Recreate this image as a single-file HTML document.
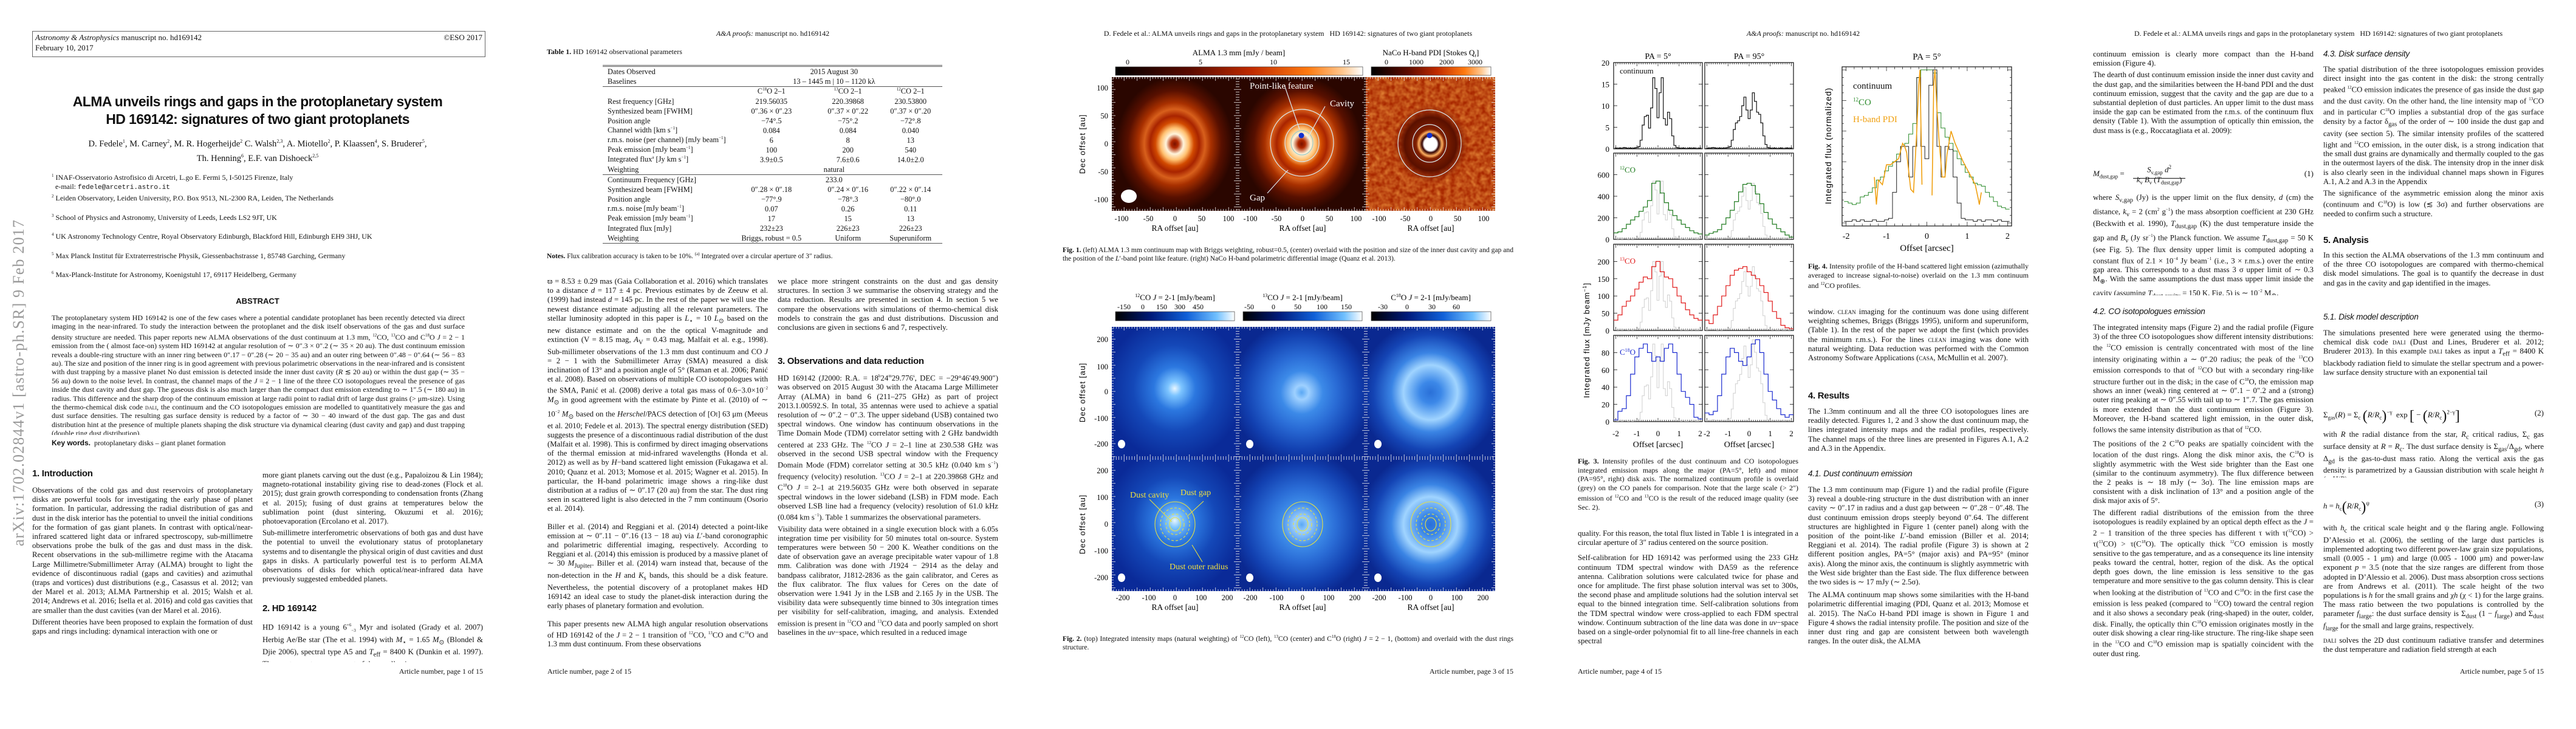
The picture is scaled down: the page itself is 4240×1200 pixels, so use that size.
<!DOCTYPE html>
<html><head><meta charset="utf-8">
<style>
html,body{margin:0;padding:0;background:#fff}
body{width:4240px;height:1200px;position:relative;overflow:hidden;font-family:"Liberation Serif",serif;color:#111}
.page{position:absolute;top:0;width:848px;height:1200px;background:#fff;overflow:hidden}
.abs{position:absolute}
.col{position:absolute;width:363px;font-size:12.8px;line-height:15.2px;text-align:justify;overflow:hidden;hyphens:auto}
.col p{margin:0 0 4px 0;text-indent:0}
.h1{position:absolute;font-family:"Liberation Sans",sans-serif;font-weight:bold;font-size:15px;letter-spacing:-0.3px}
.h2{position:absolute;font-family:"Liberation Sans",sans-serif;font-style:italic;font-size:13.5px;letter-spacing:-0.2px}
.run{position:absolute;top:48px;width:848px;text-align:center;font-size:12px}
.foot{position:absolute;top:1098px;font-size:12px}
.cap{position:absolute;font-size:11.6px;line-height:14.2px;text-align:justify;overflow:hidden}
.cap b{font-weight:bold}
.tbl td{padding:0;height:16px;font-size:12.4px;white-space:nowrap}
.sc{font-variant:small-caps}
</style></head>
<body>

<!-- ================= PAGE 1 ================= -->
<div class="page" style="left:0">
  <div class="abs" style="left:53px;top:51px;width:740px;height:40px;border:1px solid #666;font-size:13px;line-height:17px;padding:1px 0 0 4px">
    <div><i>Astronomy &amp; Astrophysics</i> manuscript no. hd169142<span style="float:right;margin-right:4px">©ESO 2017</span></div>
    <div>February 10, 2017</div>
  </div>
  <div class="abs" style="left:0;top:153px;width:848px;text-align:center;font-family:'Liberation Sans',sans-serif;font-weight:bold;font-size:23px;line-height:29px;letter-spacing:-0.6px">ALMA unveils rings and gaps in the protoplanetary system<br>HD 169142: signatures of two giant protoplanets</div>
  <div class="abs" style="left:0;top:223px;width:848px;text-align:center;font-size:14.5px;line-height:20px">D. Fedele<sup style="font-size:8px">1</sup>, M. Carney<sup style="font-size:8px">2</sup>, M. R. Hogerheijde<sup style="font-size:8px">2</sup> C. Walsh<sup style="font-size:8px">2,3</sup>, A. Miotello<sup style="font-size:8px">2</sup>, P. Klaassen<sup style="font-size:8px">4</sup>, S. Bruderer<sup style="font-size:8px">5</sup>,<br>Th. Henning<sup style="font-size:8px">6</sup>, E.F. van Dishoeck<sup style="font-size:8px">2,5</sup></div>
  <div class="abs" style="left:85px;top:282px;width:700px;font-size:12px;line-height:14.5px">
    <div><sup style="font-size:7px">1</sup> INAF-Osservatorio Astrofisico di Arcetri, L.go E. Fermi 5, I-50125 Firenze, Italy<br>&nbsp;&nbsp;e-mail: <span style="font-family:'Liberation Mono',monospace;font-size:11px">fedele@arcetri.astro.it</span></div>
    <div><sup style="font-size:7px">2</sup> Leiden Observatory, Leiden University, P.O. Box 9513, NL-2300 RA, Leiden, The Netherlands</div>
    <div style="margin-top:14px"><sup style="font-size:7px">3</sup> School of Physics and Astronomy, University of Leeds, Leeds LS2 9JT, UK</div>
    <div style="margin-top:14px"><sup style="font-size:7px">4</sup> UK Astronomy Technology Centre, Royal Observatory Edinburgh, Blackford Hill, Edinburgh EH9 3HJ, UK</div>
    <div style="margin-top:14px"><sup style="font-size:7px">5</sup> Max Planck Institut für Extraterrestrische Physik, Giessenbachstrasse 1, 85748 Garching, Germany</div>
    <div style="margin-top:14px"><sup style="font-size:7px">6</sup> Max-Planck-Institute for Astronomy, Koenigstuhl 17, 69117 Heidelberg, Germany</div>
  </div>
  <div class="abs" style="left:31px;top:630px;width:0;height:0">
    <div style="position:absolute;transform:translate(-50%,-50%) rotate(-90deg);white-space:nowrap;font-size:26px;color:#9a9a9a;letter-spacing:1.2px">arXiv:1702.02844v1 [astro-ph.SR] 9 Feb 2017</div>
  </div>
  <div class="abs" style="left:0;top:488px;width:848px;text-align:center;font-family:'Liberation Sans',sans-serif;font-weight:bold;font-size:13px">ABSTRACT</div>
  <div class="abs" style="left:85px;top:516px;width:680px;height:200px;overflow:hidden;font-size:12px;line-height:14.4px;text-align:justify">The protoplanetary system HD 169142 is one of the few cases where a potential candidate protoplanet has been recently detected via direct imaging in the near-infrared. To study the interaction between the protoplanet and the disk itself observations of the gas and dust surface density structure are needed. This paper reports new ALMA observations of the dust continuum at 1.3 mm, <sup style="font-size:7px">12</sup>CO, <sup style="font-size:7px">13</sup>CO and C<sup style="font-size:7px">18</sup>O <i>J</i> = 2 − 1 emission from the ( almost face-on) system HD 169142 at angular resolution of ∼ 0″.3 × 0″.2 (∼ 35 × 20 au). The dust continuum emission reveals a double-ring structure with an inner ring between 0″.17 − 0″.28 (∼ 20 − 35 au) and an outer ring between 0″.48 − 0″.64 (∼ 56 − 83 au). The size and position of the inner ring is in good agreement with previous polarimetric observations in the near-infrared and is consistent with dust trapping by a massive planet No dust emission is detected inside the inner dust cavity (<i>R</i> ≲ 20 au) or within the dust gap (∼ 35 − 56 au) down to the noise level. In contrast, the channel maps of the <i>J</i> = 2 − 1 line of the three CO isotopologues reveal the presence of gas inside the dust cavity and dust gap. The gaseous disk is also much larger than the compact dust emission extending to ∼ 1″.5 (∼ 180 au) in radius. This difference and the sharp drop of the continuum emission at large radii point to radial drift of large dust grains (&gt; μm-size). Using the thermo-chemical disk code <span class="sc">dali</span>, the continuum and the CO isotopologues emission are modelled to quantitatively measure the gas and dust surface densities. The resulting gas surface density is reduced by a factor of ∼ 30 − 40 inward of the dust gap. The gas and dust distribution hint at the presence of multiple planets shaping the disk structure via dynamical clearing (dust cavity and gap) and dust trapping (double ring dust distribution).</div>
  <div class="abs" style="left:85px;top:722px;font-size:12px"><b style="font-family:'Liberation Sans',sans-serif">Key words.</b>&nbsp; protoplanetary disks – giant planet formation</div>
  <div class="h1" style="left:53px;top:771px">1. Introduction</div>
  <div class="col" style="left:53px;top:800px;height:290px">
    <p>Observations of the cold gas and dust reservoirs of protoplanetary disks are powerful tools for investigating the early phase of planet formation. In particular, addressing the radial distribution of gas and dust in the disk interior has the potential to unveil the initial conditions for the formation of gas giant planets. In contrast with optical/near-infrared scattered light data or infrared spectroscopy, sub-millimetre observations probe the bulk of the gas and dust mass in the disk. Recent observations in the sub-millimetre regime with the Atacama Large Millimetre/Submillimeter Array (ALMA) brought to light the evidence of discontinuous radial (gaps and cavities) and azimuthal (traps and vortices) dust distributions (e.g., Casassus et al. 2012; van der Marel et al. 2013; ALMA Partnership et al. 2015; Walsh et al. 2014; Andrews et al. 2016; Isella et al. 2016) and cold gas cavities that are smaller than the dust cavities (van der Marel et al. 2016).</p>
    <p>Different theories have been proposed to explain the formation of dust gaps and rings including: dynamical interaction with one or</p>
  </div>
  <div class="col" style="left:432px;top:775px;height:190px">
    <p>more giant planets carving out the dust (e.g., Papaloizou &amp; Lin 1984); magneto-rotational instability giving rise to dead-zones (Flock et al. 2015); dust grain growth corresponding to condensation fronts (Zhang et al. 2015); fusing of dust grains at temperatures below the sublimation point (dust sintering, Okuzumi et al. 2016); photoevaporation (Ercolano et al. 2017).</p>
    <p>Sub-millimetre interferometric observations of both gas and dust have the potential to unveil the evolutionary status of protoplanetary systems and to disentangle the physical origin of dust cavities and dust gaps in disks. A particularly powerful test is to perform ALMA observations of disks for which optical/near-infrared data have previously suggested embedded planets.</p>
  </div>
  <div class="h1" style="left:432px;top:993px">2. HD 169142</div>
  <div class="col" style="left:432px;top:1022px;height:68px">
    <p>HD 169142 is a young 6<sup style="font-size:7px">+6</sup><sub style="font-size:7px">−3</sub> Myr and isolated (Grady et al. 2007) Herbig Ae/Be star (The et al. 1994) with <i>M</i><sub>⋆</sub> = 1.65 <i>M</i><sub>⊙</sub> (Blondel &amp; Djie 2006), spectral type A5 and <i>T</i><sub>eff</sub> = 8400 K (Dunkin et al. 1997). The most recent measurement of the parallax is</p>
  </div>
  <div class="foot" style="right:53px">Article number, page 1 of 15</div>
</div>

<!-- ================= PAGE 2 ================= -->
<div class="page" style="left:848px">
  <div class="run"><i>A&amp;A proofs:</i> manuscript no. hd169142</div>
  <div class="abs" style="left:52px;top:78px;font-size:12px"><b>Table 1.</b> HD 169142 observational parameters</div>
  <div class="abs" style="left:144px;top:107px;width:559px;border-top:3px double #555;border-bottom:1px solid #555">
    <table class="tbl" style="border-collapse:collapse;width:559px">
      <tr><td style="width:150px;padding-left:8px">Dates Observed</td><td colspan="3" style="text-align:center">2015 August 30</td></tr>
      <tr style="border-bottom:1px solid #555"><td style="padding-left:8px">Baselines</td><td colspan="3" style="text-align:center">13 – 1445 m | 10 – 1120 kλ</td></tr>
      <tr><td></td><td style="text-align:center">C<sup style="font-size:7px">18</sup>O 2–1</td><td style="text-align:center"><sup style="font-size:7px">13</sup>CO 2–1</td><td style="text-align:center"><sup style="font-size:7px">12</sup>CO 2–1</td></tr>
      <tr><td style="padding-left:8px">Rest frequency [GHz]</td><td style="text-align:center">219.56035</td><td style="text-align:center">220.39868</td><td style="text-align:center">230.53800</td></tr>
      <tr><td style="padding-left:8px">Synthesized beam [FWHM]</td><td style="text-align:center">0″.36 × 0″.23</td><td style="text-align:center">0″.37 × 0″.22</td><td style="text-align:center">0″.37 × 0″.20</td></tr>
      <tr><td style="padding-left:8px">Position angle</td><td style="text-align:center">−74°.5</td><td style="text-align:center">−75°.2</td><td style="text-align:center">−72°.8</td></tr>
      <tr><td style="padding-left:8px">Channel width [km s<sup style="font-size:7px">−1</sup>]</td><td style="text-align:center">0.084</td><td style="text-align:center">0.084</td><td style="text-align:center">0.040</td></tr>
      <tr><td style="padding-left:8px">r.m.s. noise (per channel) [mJy beam<sup style="font-size:7px">−1</sup>]</td><td style="text-align:center">6</td><td style="text-align:center">8</td><td style="text-align:center">13</td></tr>
      <tr><td style="padding-left:8px">Peak emission [mJy beam<sup style="font-size:7px">−1</sup>]</td><td style="text-align:center">100</td><td style="text-align:center">200</td><td style="text-align:center">540</td></tr>
      <tr><td style="padding-left:8px">Integrated flux<sup style="font-size:7px">a</sup> [Jy km s<sup style="font-size:7px">−1</sup>]</td><td style="text-align:center">3.9±0.5</td><td style="text-align:center">7.6±0.6</td><td style="text-align:center">14.0±2.0</td></tr>
      <tr style="border-bottom:1px solid #555"><td style="padding-left:8px">Weighting</td><td colspan="3" style="text-align:center">natural</td></tr>
      <tr><td style="padding-left:8px">Continuum Frequency [GHz]</td><td colspan="3" style="text-align:center">233.0</td></tr>
      <tr><td style="padding-left:8px">Synthesized beam [FWHM]</td><td style="text-align:center">0″.28 × 0″.18</td><td style="text-align:center">0″.24 × 0″.16</td><td style="text-align:center">0″.22 × 0″.14</td></tr>
      <tr><td style="padding-left:8px">Position angle</td><td style="text-align:center">−77°.9</td><td style="text-align:center">−78°.3</td><td style="text-align:center">−80°.0</td></tr>
      <tr><td style="padding-left:8px">r.m.s. noise [mJy beam<sup style="font-size:7px">−1</sup>]</td><td style="text-align:center">0.07</td><td style="text-align:center">0.26</td><td style="text-align:center">0.11</td></tr>
      <tr><td style="padding-left:8px">Peak emission [mJy beam<sup style="font-size:7px">−1</sup>]</td><td style="text-align:center">17</td><td style="text-align:center">15</td><td style="text-align:center">13</td></tr>
      <tr><td style="padding-left:8px">Integrated flux [mJy]</td><td style="text-align:center">232±23</td><td style="text-align:center">226±23</td><td style="text-align:center">226±23</td></tr>
      <tr><td style="padding-left:8px">Weighting</td><td style="text-align:center">Briggs, robust = 0.5</td><td style="text-align:center">Uniform</td><td style="text-align:center">Superuniform</td></tr>
    </table>
  </div>
  <div class="abs" style="left:52px;top:414px;font-size:11.5px"><b>Notes.</b> Flux calibration accuracy is taken to be 10%. <sup style="font-size:7px">(a)</sup> Integrated over a circular aperture of 3″ radius.</div>
  <div class="col" style="left:53px;top:456px;height:634px">
    <p>ϖ = 8.53 ± 0.29 mas (Gaia Collaboration et al. 2016) which translates to a distance <i>d</i> = 117 ± 4 pc. Previous estimates by de Zeeuw et al. (1999) had instead <i>d</i> = 145 pc. In the rest of the paper we will use the newest distance estimate adjusting all the relevant parameters. The stellar luminosity adopted in this paper is <i>L</i><sub>⋆</sub> = 10 <i>L</i><sub>⊙</sub> based on the new distance estimate and on the the optical V-magnitude and extinction (V = 8.15 mag, <i>A</i><sub>V</sub> = 0.43 mag, Malfait et al. e.g., 1998). Sub-millimeter observations of the 1.3 mm dust continuum and CO <i>J</i> = 2 − 1 with the Submillimeter Array (SMA) measured a disk inclination of 13° and a position angle of 5° (Raman et al. 2006; Panić et al. 2008). Based on observations of multiple CO isotopologues with the SMA, Panić et al. (2008) derive a total gas mass of 0.6−3.0×10<sup style="font-size:7px">−2</sup> <i>M</i><sub>⊙</sub> in good agreement with the estimate by Pinte et al. (2010) of ∼ 10<sup style="font-size:7px">−2</sup> <i>M</i><sub>⊙</sub> based on the <i>Herschel</i>/PACS detection of [O<span class="sc">i</span>] 63 μm (Meeus et al. 2010; Fedele et al. 2013). The spectral energy distribution (SED) suggests the presence of a discontinuous radial distribution of the dust (Malfait et al. 1998). This is confirmed by direct imaging observations of the thermal emission at mid-infrared wavelengths (Honda et al. 2012) as well as by <i>H</i>−band scattered light emission (Fukagawa et al. 2010; Quanz et al. 2013; Momose et al. 2015; Wagner et al. 2015). In particular, the H-band polarimetric image shows a ring-like dust distribution at a radius of ∼ 0″.17 (20 au) from the star. The dust ring seen in scattered light is also detected in the 7 mm continuum (Osorio et al. 2014).</p>
    <p style="margin-top:14px">Biller et al. (2014) and Reggiani et al. (2014) detected a point-like emission at ∼ 0″.11 − 0″.16 (13 − 18 au) via <i>L</i>′-band coronographic and polarimetric differential imaging, respectively. According to Reggiani et al. (2014) this emission is produced by a massive planet of ∼ 30 <i>M</i><sub>Jupiter</sub>. Biller et al. (2014) warn instead that, because of the non-detection in the <i>H</i> and <i>K</i><sub>s</sub> bands, this should be a disk feature. Nevertheless, the potential discovery of a protoplanet makes HD 169142 an ideal case to study the planet-disk interaction during the early phases of planetary formation and evolution.</p>
    <p style="margin-top:14px">This paper presents new ALMA high angular resolution observations of HD 169142 of the <i>J</i> = 2 − 1 transition of <sup style="font-size:7px">12</sup>CO, <sup style="font-size:7px">13</sup>CO and C<sup style="font-size:7px">18</sup>O and 1.3 mm dust continuum. From these observations</p>
  </div>
  <div class="col" style="left:432px;top:456px;height:107px">
    <p>we place more stringent constraints on the dust and gas density structures. In section 3 we summarise the observing strategy and the data reduction. Results are presented in section 4. In section 5 we compare the observations with simulations of thermo-chemical disk models to constrain the gas and dust distributions. Discussion and conclusions are given in sections 6 and 7, respectively.</p>
  </div>
  <div class="h1" style="left:432px;top:586px">3. Observations and data reduction</div>
  <div class="col" style="left:432px;top:612px;height:478px">
    <p>HD 169142 (J2000: R.A. = 18<sup style="font-size:7px">h</sup>24<sup style="font-size:7px">m</sup>29.776<sup style="font-size:7px">s</sup>, DEC = −29°46′49.900″) was observed on 2015 August 30 with the Atacama Large Millimeter Array (ALMA) in band 6 (211–275 GHz) as part of project 2013.1.00592.S. In total, 35 antennas were used to achieve a spatial resolution of ∼ 0″.2 − 0″.3. The upper sideband (USB) contained two spectral windows. One window has continuum observations in the Time Domain Mode (TDM) correlator setting with 2 GHz bandwidth centered at 233 GHz. The <sup style="font-size:7px">12</sup>CO <i>J</i> = 2–1 line at 230.538 GHz was observed in the second USB spectral window with the Frequency Domain Mode (FDM) correlator setting at 30.5 kHz (0.040 km s<sup style="font-size:7px">−1</sup>) frequency (velocity) resolution. <sup style="font-size:7px">13</sup>CO <i>J</i> = 2–1 at 220.39868 GHz and C<sup style="font-size:7px">18</sup>O <i>J</i> = 2–1 at 219.56035 GHz were both observed in separate spectral windows in the lower sideband (LSB) in FDM mode. Each observed LSB line had a frequency (velocity) resolution of 61.0 kHz (0.084 km s<sup style="font-size:7px">−1</sup>). Table 1 summarizes the observational parameters.</p>
    <p>Visibility data were obtained in a single execution block with a 6.05s integration time per visibility for 50 minutes total on-source. System temperatures were between 50 − 200 K. Weather conditions on the date of observation gave an average precipitable water vapour of 1.8 mm. Calibration was done with <i>J</i>1924 − 2914 as the delay and bandpass calibrator, J1812-2836 as the gain calibrator, and Ceres as the flux calibrator. The flux values for Ceres on the date of observation were 1.941 Jy in the LSB and 2.165 Jy in the USB. The visibility data were subsequently time binned to 30s integration times per visibility for self-calibration, imaging, and analysis. Extended emission is present in <sup style="font-size:7px">12</sup>CO and <sup style="font-size:7px">13</sup>CO data and poorly sampled on short baselines in the <i>uv</i>−space, which resulted in a reduced image</p>
  </div>
  <div class="foot" style="left:53px">Article number, page 2 of 15</div>
</div>

<!-- ================= PAGE 3 ================= -->
<div class="page" style="left:1696px">
  <div class="run">D. Fedele et al.: ALMA unveils rings and gaps in the protoplanetary system&nbsp;&nbsp; HD 169142: signatures of two giant protoplanets</div>
  <svg class="abs" style="left:0;top:0" width="848" height="1200">
    <defs>
      <linearGradient id="hot" x1="0" x2="1" y1="0" y2="0">
        <stop offset="0" stop-color="#000"/><stop offset="0.3" stop-color="#5a0a00"/><stop offset="0.55" stop-color="#c02a00"/><stop offset="0.78" stop-color="#ff7a10"/><stop offset="0.92" stop-color="#ffc890"/><stop offset="1" stop-color="#fff"/>
      </linearGradient>
      <linearGradient id="bluebar" x1="0" x2="1" y1="0" y2="0">
        <stop offset="0" stop-color="#000"/><stop offset="0.3" stop-color="#001a7a"/><stop offset="0.6" stop-color="#1060d8"/><stop offset="0.85" stop-color="#70c0ff"/><stop offset="1" stop-color="#fff"/>
      </linearGradient>
      <radialGradient id="cont" cx="0.5" cy="0.5" r="0.5" gradientTransform="translate(0.5 0.5) scale(0.93 1) translate(-0.5 -0.5)">
        <stop offset="0" stop-color="#7a1200"/><stop offset="0.06" stop-color="#b02800"/><stop offset="0.15" stop-color="#fff4dc"/><stop offset="0.24" stop-color="#ffc070"/><stop offset="0.33" stop-color="#d24a00"/><stop offset="0.42" stop-color="#a82400"/><stop offset="0.52" stop-color="#d8601c"/><stop offset="0.62" stop-color="#a83000"/><stop offset="0.8" stop-color="#581000"/><stop offset="1" stop-color="#2a0600"/>
      </radialGradient>
      <radialGradient id="naco" cx="0.5" cy="0.5" r="0.5">
        <stop offset="0" stop-color="#fff"/><stop offset="0.1" stop-color="#fff"/><stop offset="0.13" stop-color="#300000"/><stop offset="0.18" stop-color="#ffb060"/><stop offset="0.22" stop-color="#802000"/><stop offset="0.4" stop-color="#5a1000"/><stop offset="0.6" stop-color="#a02400" stop-opacity="0"/><stop offset="1" stop-color="#a02400" stop-opacity="0"/>
      </radialGradient>
      <filter id="noise" x="0" y="0" width="100%" height="100%">
        <feTurbulence type="fractalNoise" baseFrequency="0.12" numOctaves="2" seed="4"/>
        <feColorMatrix type="matrix" values="0 0 0 0 0.85  0 0 0 0 0.3  0 0 0 0 0.05  0 0 0 1.4 -0.35"/>
      </filter>
      <radialGradient id="co12" cx="0.5" cy="0.47" r="0.55">
        <stop offset="0" stop-color="#e8f6ff"/><stop offset="0.1" stop-color="#7cc4ff"/><stop offset="0.3" stop-color="#2c78e0"/><stop offset="0.6" stop-color="#1448b8"/><stop offset="1" stop-color="#0a2a98"/>
      </radialGradient>
      <radialGradient id="co13" cx="0.5" cy="0.5" r="0.55">
        <stop offset="0" stop-color="#5aa8f4"/><stop offset="0.1" stop-color="#9ed0ff"/><stop offset="0.3" stop-color="#3c8ae8"/><stop offset="0.5" stop-color="#2a6cd6"/><stop offset="0.8" stop-color="#1240b0"/><stop offset="1" stop-color="#0a2890"/>
      </radialGradient>
      <radialGradient id="c18o" cx="0.5" cy="0.5" r="0.55">
        <stop offset="0" stop-color="#2a70d8"/><stop offset="0.15" stop-color="#3c88e8"/><stop offset="0.38" stop-color="#a0d4ff"/><stop offset="0.55" stop-color="#3a84e4"/><stop offset="0.8" stop-color="#1444b4"/><stop offset="1" stop-color="#0a2890"/>
      </radialGradient>
    </defs>
    <!-- Fig 1 colorbars -->
    <text x="343" y="91" font-size="13" text-anchor="middle" font-family="Liberation Serif">ALMA 1.3 mm [mJy / beam]</text>
    <g font-size="12" text-anchor="middle" font-family="Liberation Serif"><text x="160" y="106">0</text><text x="280" y="106">5</text><text x="400" y="106">10</text><text x="520" y="106">15</text></g>
    <rect x="140" y="110" width="407" height="14" fill="url(#hot)" stroke="#444" stroke-width="0.7"/>
    <text x="659" y="91" font-size="13" text-anchor="middle" font-family="Liberation Serif">NaCo H-band PDI [Stokes Q<tspan font-size="8" dy="3">r</tspan><tspan dy="-3">]</tspan></text>
    <g font-size="12" text-anchor="middle" font-family="Liberation Serif"><text x="586" y="106">0</text><text x="635" y="106">1000</text><text x="685" y="106">2000</text><text x="732" y="106">3000</text></g>
    <rect x="561" y="110" width="197" height="14" fill="url(#hot)" stroke="#444" stroke-width="0.7"/>
    <!-- Fig 1 panels -->
    <rect x="134" y="127" width="207" height="220" fill="url(#cont)"/>
    <ellipse cx="162" cy="323" rx="13" ry="11" fill="#fff"/>
    <rect x="341" y="127" width="211" height="220" fill="url(#cont)"/>
    <g fill="none" stroke="#d8e8f0" stroke-width="1.2">
      <ellipse cx="447" cy="235" rx="52" ry="55"/><ellipse cx="447" cy="235" rx="28" ry="31"/><ellipse cx="447" cy="235" rx="18" ry="20" stroke="#9cc"/>
      <line x1="418" y1="140" x2="443" y2="213"/><line x1="485" y1="175" x2="456" y2="228"/><line x1="390" y1="318" x2="424" y2="280"/>
    </g>
    <circle cx="446" cy="223" r="4.5" fill="#1030d0"/>
    <g fill="#fff" font-size="15" font-family="Liberation Serif"><text x="361" y="146">Point-like feature</text><text x="493" y="175">Cavity</text><text x="361" y="330">Gap</text></g>
    <rect x="552" y="127" width="213" height="220" fill="#a82800"/>
    <rect x="552" y="127" width="213" height="220" filter="url(#noise)" opacity="0.9"/>
    <rect x="552" y="127" width="213" height="220" fill="url(#naco)"/>
    <g fill="none" stroke="#d8e8f0" stroke-width="1.2"><ellipse cx="657" cy="236" rx="52" ry="55"/><ellipse cx="657" cy="236" rx="28" ry="31"/></g>
    <circle cx="657" cy="223" r="4.5" fill="#1030d0"/>
    <g font-family="Liberation Serif" font-size="12.5">
      <g text-anchor="end"><text x="128" y="149">100</text><text x="128" y="195">50</text><text x="128" y="241">0</text><text x="128" y="287">-50</text><text x="128" y="333">-100</text></g>
      <g text-anchor="middle">
        <text x="150" y="364">-100</text><text x="194" y="364">-50</text><text x="238" y="364">0</text><text x="282" y="364">50</text><text x="326" y="364">100</text>
        <text x="362" y="364">-100</text><text x="405" y="364">-50</text><text x="448" y="364">0</text><text x="492" y="364">50</text><text x="536" y="364">100</text>
        <text x="574" y="364">-100</text><text x="617" y="364">-50</text><text x="659" y="364">0</text><text x="703" y="364">50</text><text x="746" y="364">100</text>
        <text x="238" y="380" font-size="13.5">RA offset [au]</text><text x="448" y="380" font-size="13.5">RA offset [au]</text><text x="659" y="380" font-size="13.5">RA offset [au]</text>
      </g>
      <text transform="translate(90 237) rotate(-90)" text-anchor="middle" font-size="13" letter-spacing="1" font-family="Liberation Sans">Dec offset [au]</text>
    </g>
    <!-- Fig 2 colorbars -->
    <g font-family="Liberation Serif" text-anchor="middle">
      <text x="238" y="494" font-size="13"><tspan font-size="8" dy="-5">12</tspan><tspan dy="5">CO </tspan><tspan font-style="italic">J</tspan> = 2-1 [mJy/beam]</text>
      <text x="448" y="494" font-size="13"><tspan font-size="8" dy="-5">13</tspan><tspan dy="5">CO </tspan><tspan font-style="italic">J</tspan> = 2-1 [mJy/beam]</text>
      <text x="659" y="494" font-size="13">C<tspan font-size="8" dy="-5">18</tspan><tspan dy="5">O </tspan><tspan font-style="italic">J</tspan> = 2-1 [mJy/beam]</text>
      <g font-size="12"><text x="154" y="509">-150</text><text x="185" y="509">0</text><text x="216" y="509">150</text><text x="246" y="509">300</text><text x="276" y="509">450</text>
      <text x="360" y="509">-50</text><text x="400" y="509">0</text><text x="440" y="509">50</text><text x="480" y="509">100</text><text x="520" y="509">150</text>
      <text x="580" y="509">-30</text><text x="620" y="509">0</text><text x="661" y="509">30</text><text x="701" y="509">60</text></g>
    </g>
    <rect x="140" y="513" width="196" height="15" fill="url(#bluebar)" stroke="#444" stroke-width="0.7"/>
    <rect x="350" y="513" width="196" height="15" fill="url(#bluebar)" stroke="#444" stroke-width="0.7"/>
    <rect x="561" y="513" width="197" height="15" fill="url(#bluebar)" stroke="#444" stroke-width="0.7"/>
    <!-- Fig 2 panels -->
    <g>
      <rect x="134" y="538" width="207" height="216" fill="url(#co12)"/>
      <rect x="341" y="538" width="211" height="216" fill="url(#co13)"/>
      <rect x="552" y="538" width="213" height="216" fill="url(#c18o)"/>
      <rect x="134" y="754" width="207" height="219" fill="url(#co12)"/>
      <rect x="341" y="754" width="211" height="219" fill="url(#co13)"/>
      <rect x="552" y="754" width="213" height="219" fill="url(#c18o)"/>
      <g fill="#fff"><ellipse cx="150" cy="731" rx="6" ry="7"/><ellipse cx="361" cy="731" rx="6" ry="7"/><ellipse cx="572" cy="731" rx="6" ry="7"/><ellipse cx="150" cy="951" rx="6" ry="7"/><ellipse cx="361" cy="951" rx="6" ry="7"/><ellipse cx="572" cy="951" rx="6" ry="7"/></g>
      <g fill="none" stroke="#e8e040" stroke-width="1.1">
        <ellipse cx="238" cy="863" rx="33" ry="37"/><ellipse cx="238" cy="863" rx="24" ry="27" stroke-dasharray="4 3"/><ellipse cx="238" cy="863" rx="15" ry="17" stroke-dasharray="4 3"/><ellipse cx="238" cy="863" rx="9" ry="11"/>
        <ellipse cx="448" cy="863" rx="33" ry="37"/><ellipse cx="448" cy="863" rx="24" ry="27" stroke-dasharray="4 3"/><ellipse cx="448" cy="863" rx="15" ry="17" stroke-dasharray="4 3"/><ellipse cx="448" cy="863" rx="9" ry="11"/>
        <ellipse cx="659" cy="863" rx="33" ry="37"/><ellipse cx="659" cy="863" rx="24" ry="27" stroke-dasharray="4 3"/><ellipse cx="659" cy="863" rx="15" ry="17" stroke-dasharray="4 3"/><ellipse cx="659" cy="863" rx="9" ry="11"/>
        <line x1="196" y1="822" x2="233" y2="859"/><line x1="285" y1="825" x2="258" y2="850"/><line x1="283" y1="925" x2="266" y2="897"/>
      </g>
      <g fill="#f0e040" font-size="14" font-family="Liberation Serif"><text x="164" y="819">Dust cavity</text><text x="247" y="815">Dust gap</text><text x="229" y="937">Dust outer radius</text></g>
    </g>
    <g font-family="Liberation Serif" font-size="12.5">
      <g text-anchor="end"><text x="128" y="563">200</text><text x="128" y="608">100</text><text x="128" y="649">0</text><text x="128" y="693">-100</text><text x="128" y="735">-200</text>
      <text x="128" y="779">200</text><text x="128" y="823">100</text><text x="128" y="867">0</text><text x="128" y="911">-100</text><text x="128" y="955">-200</text></g>
      <g text-anchor="middle"><text x="152" y="988">-200</text><text x="195" y="988">-100</text><text x="238" y="988">0</text><text x="281" y="988">100</text><text x="324" y="988">200</text>
      <text x="362" y="988">-200</text><text x="405" y="988">-100</text><text x="448" y="988">0</text><text x="491" y="988">100</text><text x="534" y="988">200</text>
      <text x="574" y="988">-200</text><text x="617" y="988">-100</text><text x="659" y="988">0</text><text x="702" y="988">100</text><text x="745" y="988">200</text>
      <text x="238" y="1004" font-size="13.5">RA offset [au]</text><text x="448" y="1004" font-size="13.5">RA offset [au]</text><text x="659" y="1004" font-size="13.5">RA offset [au]</text></g>
      <text transform="translate(90 646) rotate(-90)" text-anchor="middle" font-size="13" letter-spacing="1" font-family="Liberation Sans">Dec offset [au]</text>
      <text transform="translate(90 863) rotate(-90)" text-anchor="middle" font-size="13" letter-spacing="1" font-family="Liberation Sans">Dec offset [au]</text>
    </g>
    <g id="imgticks" stroke="#eee" stroke-width="0.8"></g>
  </svg>
  <div class="cap" style="left:53px;top:405px;width:742px"><b>Fig. 1.</b> (left) ALMA 1.3 mm continuum map with Briggs weighting, robust=0.5, (center) overlaid with the position and size of the inner dust cavity and gap and the position of the <i>L</i>′-band point like feature. (right) NaCo H-band polarimetric differential image (Quanz et al. 2013).</div>
  <div class="cap" style="left:53px;top:1041px;width:742px"><b>Fig. 2.</b> (top) Integrated intensity maps (natural weighting) of <sup style="font-size:7px">12</sup>CO (left), <sup style="font-size:7px">13</sup>CO (center) and C<sup style="font-size:7px">18</sup>O (right) <i>J</i> = 2 − 1, (bottom) and overlaid with the dust rings structure.</div>
  <div class="foot" style="right:53px">Article number, page 3 of 15</div>
</div>

<!-- ================= PAGE 4 ================= -->
<div class="page" style="left:2544px">
  <div class="run"><i>A&amp;A proofs:</i> manuscript no. hd169142</div>
  <svg id="fig3" class="abs" style="left:0;top:0" width="848" height="1200"></svg>
  <div class="cap" style="left:53px;top:752px;width:363px;font-size:12px;line-height:14.6px"><b>Fig. 3.</b> Intensity profiles of the dust continuum and CO isotopologues integrated emission maps along the major (PA=5°, left) and minor (PA=95°, right) disk axis. The normalized continuum profile is overlaid (grey) on the CO panels for comparison. Note that the large scale (&gt; 2″) emission of <sup style="font-size:7px">12</sup>CO and <sup style="font-size:7px">13</sup>CO is the result of the reduced image quality (see Sec. 2).</div>
  <div class="col" style="left:53px;top:871px;height:220px">
    <p>quality. For this reason, the total flux listed in Table 1 is integrated in a circular aperture of 3″ radius centered on the source position.</p>
    <p style="margin-top:10px">Self-calibration for HD 169142 was performed using the 233 GHz continuum TDM spectral window with DA59 as the reference antenna. Calibration solutions were calculated twice for phase and once for amplitude. The first phase solution interval was set to 300s, the second phase and amplitude solutions had the solution interval set equal to the binned integration time. Self-calibration solutions from the TDM spectral window were cross-applied to each FDM spectral window. Continuum subtraction of the line data was done in <i>uv</i>−space based on a single-order polynomial fit to all line-free channels in each spectral</p>
  </div>
  <div class="cap" style="left:432px;top:431px;width:363px;font-size:12px;line-height:14.6px"><b>Fig. 4.</b> Intensity profile of the H-band scattered light emission (azimuthally averaged to increase signal-to-noise) overlaid on the 1.3 mm continuum and <sup style="font-size:7px">12</sup>CO profiles.</div>
  <div class="col" style="left:432px;top:506px;height:108px">
    <p>window. <span class="sc">clean</span> imaging for the continuum was done using different weighting schemes, Briggs (Briggs 1995), uniform and superuniform, (Table 1). In the rest of the paper we adopt the first (which provides the minimum r.m.s.). For the lines <span class="sc">clean</span> imaging was done with natural weighting. Data reduction was performed with the Common Astronomy Software Applications (<span class="sc">casa</span>, McMullin et al. 2007).</p>
  </div>
  <div class="h1" style="left:432px;top:643px">4. Results</div>
  <div class="col" style="left:432px;top:670px;height:77px">
    <p>The 1.3mm continuum and all the three CO isotopologues lines are readily detected. Figures 1, 2 and 3 show the dust continuum map, the lines integrated intensity maps and the radial profiles, respectively. The channel maps of the three lines are presented in Figures A.1, A.2 and A.3 in the Appendix.</p>
  </div>
  <div class="h2" style="left:432px;top:772px">4.1. Dust continuum emission</div>
  <div class="col" style="left:432px;top:799px;height:292px">
    <p>The 1.3 mm continuum map (Figure 1) and the radial profile (Figure 3) reveal a double-ring structure in the dust distribution with an inner cavity ∼ 0″.17 in radius and a dust gap between ∼ 0″.28 − 0″.48. The dust continuum emission drops steeply beyond 0″.64. The different structures are highlighted in Figure 1 (center panel) along with the position of the point-like <i>L</i>′-band emission (Biller et al. 2014; Reggiani et al. 2014). The radial profile (Figure 3) is shown at 2 different position angles, PA=5° (major axis) and PA=95° (minor axis). Along the minor axis, the continuum is slightly asymmetric with the West side brighter than the East side. The flux difference between the two sides is ∼ 17 mJy (∼ 2.5σ).</p>
    <p style="margin-top:6px">The ALMA continuum map shows some similarities with the H-band polarimetric differential imaging (PDI, Quanz et al. 2013; Momose et al. 2015). The NaCo H-band PDI image is shown in Figure 1 and Figure 4 shows the radial intensity profile. The position and size of the inner dust ring and gap are consistent between both wavelength ranges. In the outer disk, the ALMA</p>
  </div>
  <div class="foot" style="left:53px">Article number, page 4 of 15</div>
</div>

<!-- ================= PAGE 5 ================= -->
<div class="page" style="left:3392px">
  <div class="run">D. Fedele et al.: ALMA unveils rings and gaps in the protoplanetary system&nbsp;&nbsp; HD 169142: signatures of two giant protoplanets</div>
  <div class="col" style="left:53px;top:82px;height:153px">
    <p>continuum emission is clearly more compact than the H-band emission (Figure 4).</p>
    <p style="margin:0">The dearth of dust continuum emission inside the inner dust cavity and the dust gap, and the similarities between the H-band PDI and the dust continuum emission, suggest that the cavity and the gap are due to a substantial depletion of dust particles. An upper limit to the dust mass inside the gap can be estimated from the r.m.s. of the continuum flux density (Table 1). With the assumption of optically thin emission, the dust mass is (e.g., Roccatagliata et al. 2009):</p>
  </div>
  <div class="abs" style="left:53px;top:266px;width:363px;height:42px;font-size:13px">
    <span style="position:absolute;left:0;top:12px"><i>M</i><sub style="font-size:9px">dust,gap</sub> =</span>
    <span style="position:absolute;left:66px;top:0;width:86px;text-align:center;border-bottom:1px solid #111;line-height:18px"><i>S</i><sub style="font-size:9px">ν,gap</sub> <i>d</i><sup style="font-size:9px">2</sup></span>
    <span style="position:absolute;left:66px;top:22px;width:86px;text-align:center"><i>k</i><sub style="font-size:9px">ν</sub> <i>B</i><sub style="font-size:9px">ν</sub> (<i>T</i><sub style="font-size:9px">dust,gap</sub>)</span>
    <span style="position:absolute;right:0;top:12px">(1)</span>
  </div>
  <div class="col" style="left:53px;top:318px;height:168px">
    <p>where <i>S</i><sub>ν,gap</sub> (Jy) is the upper limit on the flux density, <i>d</i> (cm) the distance, <i>k</i><sub>ν</sub> = 2 (cm<sup style="font-size:7px">2</sup> g<sup style="font-size:7px">−1</sup>) the mass absorption coefficient at 230 GHz (Beckwith et al. 1990), <i>T</i><sub>dust,gap</sub> (K) the dust temperature inside the gap and <i>B</i><sub>ν</sub> (Jy sr<sup style="font-size:7px">−1</sup>) the Planck function. We assume <i>T</i><sub>dust,gap</sub> = 50 K (see Fig. 5). The flux density upper limit is computed adopting a constant flux of 2.1 × 10<sup style="font-size:7px">−4</sup> Jy beam<sup style="font-size:7px">−1</sup> (i.e., 3 × r.m.s.) over the entire gap area. This corresponds to a dust mass 3 σ upper limit of ∼ 0.3 M<sub>⊕</sub>. With the same assumptions the dust mass upper limit inside the cavity (assuming <i>T</i><sub>dust,cavity</sub> = 150 K, Fig. 5) is ∼ 10<sup style="font-size:7px">−2</sup> M<sub>⊕</sub>.</p>
  </div>
  <div class="h2" style="left:53px;top:505px">4.2. CO isotopologues emission</div>
  <div class="col" style="left:53px;top:532px;height:558px">
    <p>The integrated intensity maps (Figure 2) and the radial profile (Figure 3) of the three CO isotopologues show different intensity distributions: the <sup style="font-size:7px">12</sup>CO emission is centrally concentrated with most of the line intensity originating within a ∼ 0″.20 radius; the peak of the <sup style="font-size:7px">13</sup>CO emission corresponds to that of <sup style="font-size:7px">12</sup>CO but with a secondary ring-like structure further out in the disk; in the case of C<sup style="font-size:7px">18</sup>O, the emission map shows an inner (weak) ring centered at ∼ 0″.1 − 0″.2 and a (strong) outer ring peaking at ∼ 0″.55 with tail up to ∼ 1″.7. The gas emission is more extended than the dust continuum emission (Figure 3). Moreover, the H-band scattered light emission, in the outer disk, follows the same intensity distribution as that of <sup style="font-size:7px">12</sup>CO.</p>
    <p>The positions of the 2 C<sup style="font-size:7px">18</sup>O peaks are spatially coincident with the location of the dust rings. Along the disk minor axis, the C<sup style="font-size:7px">18</sup>O is slightly asymmetric with the West side brighter than the East one (similar to the continuum asymmetry). The flux difference between the 2 peaks is ∼ 18 mJy (∼ 3σ). The line emission maps are consistent with a disk inclination of 13° and a position angle of the disk major axis of 5°.</p>
    <p>The different radial distributions of the emission from the three isotopologues is readily explained by an optical depth effect as the <i>J</i> = 2 − 1 transition of the three species has different τ with τ(<sup style="font-size:7px">12</sup>CO) &gt; τ(<sup style="font-size:7px">13</sup>CO) &gt; τ(C<sup style="font-size:7px">18</sup>O). The optically thick <sup style="font-size:7px">12</sup>CO emission is mostly sensitive to the gas temperature, and as a consequence its line intensity peaks toward the central, hotter, region of the disk. As the optical depth goes down, the line emission is less sensitive to the gas temperature and more sensitive to the gas column density. This is clear when looking at the distribution of <sup style="font-size:7px">13</sup>CO and C<sup style="font-size:7px">18</sup>O: in the first case the emission is less peaked (compared to <sup style="font-size:7px">12</sup>CO) toward the central region and it also shows a secondary peak (ring-shaped) in the outer, colder, disk. Finally, the optically thin C<sup style="font-size:7px">18</sup>O emission originates mostly in the outer disk showing a clear ring-like structure. The ring-like shape seen in the <sup style="font-size:7px">13</sup>CO and C<sup style="font-size:7px">18</sup>O emission map is spatially coincident with the outer dust ring.</p>
  </div>
  <div class="h2" style="left:432px;top:81px">4.3. Disk surface density</div>
  <div class="col" style="left:432px;top:107px;height:252px">
    <p>The spatial distribution of the three isotopologues emission provides direct insight into the gas content in the disk: the strong centrally peaked <sup style="font-size:7px">12</sup>CO emission indicates the presence of gas inside the dust gap and the dust cavity. On the other hand, the line intensity map of <sup style="font-size:7px">13</sup>CO and in particular C<sup style="font-size:7px">18</sup>O implies a substantial drop of the gas surface density by a factor δ<sub>gas</sub> of the order of ∼ 100 inside the dust gap and cavity (see section 5). The similar intensity profiles of the scattered light and <sup style="font-size:7px">12</sup>CO emission, in the outer disk, is a strong indication that the small dust grains are dynamically and thermally coupled to the gas in the outermost layers of the disk. The intensity drop in the inner disk is also clearly seen in the individual channel maps shown in Figures A.1, A.2 and A.3 in the Appendix</p>
    <p>The significance of the asymmetric emission along the minor axis (continuum and C<sup style="font-size:7px">18</sup>O) is low (≲ 3σ) and further observations are needed to confirm such a structure.</p>
  </div>
  <div class="h1" style="left:432px;top:387px">5. Analysis</div>
  <div class="col" style="left:432px;top:413px;height:78px">
    <p>In this section the ALMA observations of the 1.3 mm continuum and of the three CO isotopologues are compared with thermo-chemical disk model simulations. The goal is to quantify the decrease in dust and gas in the cavity and gap identified in the images.</p>
  </div>
  <div class="h2" style="left:432px;top:514px">5.1. Disk model description</div>
  <div class="col" style="left:432px;top:541px;height:92px">
    <p>The simulations presented here were generated using the thermo-chemical disk code <span class="sc">dali</span> (Dust and Lines, Bruderer et al. 2012; Bruderer 2013). In this example <span class="sc">dali</span> takes as input a <i>T</i><sub>eff</sub> = 8400 K blackbody radiation field to simulate the stellar spectrum and a power-law surface density structure with an exponential tail</p>
  </div>
  <div class="abs" style="left:432px;top:664px;width:363px;height:34px;font-size:13px">
    <span style="position:absolute;left:0;top:8px">Σ<sub style="font-size:9px">gas</sub>(<i>R</i>) = Σ<sub style="font-size:9px">c</sub> <span style="font-size:24px;vertical-align:-5px">(</span><i>R</i>/<i>R</i><sub style="font-size:9px">c</sub><span style="font-size:24px;vertical-align:-5px">)</span><sup style="font-size:9px">−γ</sup> &nbsp;exp <span style="font-size:24px;vertical-align:-5px">[</span> − <span style="font-size:24px;vertical-align:-5px">(</span><i>R</i>/<i>R</i><sub style="font-size:9px">c</sub><span style="font-size:24px;vertical-align:-5px">)</span><sup style="font-size:9px">2−γ</sup><span style="font-size:24px;vertical-align:-5px">]</span></span>
    <span style="position:absolute;right:0;top:8px">(2)</span>
  </div>
  <div class="col" style="left:432px;top:708px;height:78px">
    <p>with <i>R</i> the radial distance from the star, <i>R</i><sub>c</sub> critical radius, Σ<sub>c</sub> gas surface density at <i>R</i> = <i>R</i><sub>c</sub>. The dust surface density is Σ<sub>gas</sub>/Δ<sub>gd</sub>, where Δ<sub>gd</sub> is the gas-to-dust mass ratio. Along the vertical axis the gas density is parametrized by a Gaussian distribution with scale height <i>h</i> (= <i>H</i>/<i>R</i>)</p>
  </div>
  <div class="abs" style="left:432px;top:818px;width:363px;height:30px;font-size:13px">
    <span style="position:absolute;left:0;top:4px"><i>h</i> = <i>h</i><sub style="font-size:9px">c</sub><span style="font-size:24px;vertical-align:-5px">(</span><i>R</i>/<i>R</i><sub style="font-size:9px">c</sub><span style="font-size:24px;vertical-align:-5px">)</span><sup style="font-size:9px">ψ</sup></span>
    <span style="position:absolute;right:0;top:4px">(3)</span>
  </div>
  <div class="col" style="left:432px;top:862px;height:228px">
    <p>with <i>h</i><sub>c</sub> the critical scale height and ψ the flaring angle. Following D’Alessio et al. (2006), the settling of the large dust particles is implemented adopting two different power-law grain size populations, small (0.005 - 1 μm) and large (0.005 - 1000 μm) and power-law exponent <i>p</i> = 3.5 (note that the size ranges are different from those adopted in D’Alessio et al. 2006). Dust mass absorption cross sections are from Andrews et al. (2011). The scale height of the two populations is <i>h</i> for the small grains and χ<i>h</i> (χ &lt; 1) for the large grains. The mass ratio between the two populations is controlled by the parameter <i>f</i><sub>large</sub>: the dust surface density is Σ<sub>dust</sub> (1 − <i>f</i><sub>large</sub>) and Σ<sub>dust</sub> <i>f</i><sub>large</sub> for the small and large grains, respectively.</p>
    <p><span class="sc">dali</span> solves the 2D dust continuum radiative transfer and determines the dust temperature and radiation field strength at each</p>
  </div>
  <div class="foot" style="right:53px">Article number, page 5 of 15</div>
</div>

<script>
// ---------- Figure 3 data (profiles along PA=5 and PA=95) ----------
const offsetsFine = [-2.0,-1.9,-1.8,-1.7,-1.6,-1.5,-1.4,-1.3,-1.2,-1.1,-1.0,-0.9,-0.8,-0.7,-0.6,-0.5,-0.4,-0.3,-0.2,-0.1,0.0,0.1,0.2,0.3,0.4,0.5,0.6,0.7,0.8,0.9,1.0,1.1,1.2,1.3,1.4,1.5,1.6,1.7,1.8,1.9,2.0];
const contPA5  = [0.2,0.1,0.2,0.1,0.3,0.2,0.1,0.2,0.1,0.2,0.3,0.5,2,5.5,7.5,7.8,4.8,9.5,16.5,14,7.2,13,16.5,7,5.5,8.5,7,3,0.8,0.3,0.2,0.1,0.2,0.1,0.1,0.2,0.1,0.2,0.1,0.1,0.2];
const contPA95 = [0.1,0.2,0.2,0.3,0.2,0.1,0.2,0.1,0.2,0.2,0.3,0.5,2,4.5,6,6.5,7.5,10,12,9,7,9,13,11,8.5,8,6,3,1,0.3,0.2,0.1,0.2,0.1,0.1,0.2,0.1,0.1,0.2,0.1,0.2];
const offsetsCoarse = [-2.0,-1.8,-1.6,-1.4,-1.2,-1.0,-0.8,-0.6,-0.4,-0.2,0.0,0.2,0.4,0.6,0.8,1.0,1.2,1.4,1.6,1.8,2.0];
const co12PA5  = [60,70,100,140,180,210,260,300,360,520,540,430,340,270,220,180,140,110,80,60,50];
const co12PA95 = [40,55,70,90,140,200,270,350,440,510,520,500,420,330,250,190,140,100,70,40,20];
const co13PA5  = [30,45,70,85,100,120,140,155,150,185,200,170,155,150,125,100,80,60,45,35,30];
const co13PA95 = [30,20,45,70,100,130,160,175,180,185,170,160,150,130,110,85,55,35,15,8,5];
const c18oPA5  = [2,12,15,30,55,75,85,90,80,70,75,70,85,90,80,55,35,28,20,5,3];
const c18oPA95 = [10,8,12,30,55,75,85,80,70,65,75,90,95,80,55,35,25,15,8,5,8];
const rowMax = [20,800,250,100];
const rowTicks = [[0,5,10,15,20],[0,200,400,600],[0,50,100,150,200],[0,20,40,60,80]];
const xTickValues = [-2,-1,0,1,2];
const rowLabels = ['continuum','12CO','13CO','C18O'];
const rowColors = ['#111','#1e7a1e','#e01818','#1a2ad0'];

// ---------- Figure 4 data (normalized, PA=5) ----------
const fig4Cont = [0.01,0.01,0.02,0.01,0.02,0.01,0.01,0.02,0.01,0.01,0.02,0.03,0.2,0.4,0.5,0.5,0.3,0.5,0.95,0.5,0.42,0.9,1.0,0.5,0.3,0.5,0.48,0.3,0.13,0.03,0.02,0.02,0.01,0.02,0.01,0.02,0.02,0.01,0.02,0.01,0.01];
const fig4CO12 = [0.14,0.13,0.12,0.13,0.17,0.18,0.2,0.23,0.28,0.3,0.34,0.37,0.4,0.45,0.5,0.52,0.58,0.65,0.95,1.0,1.0,1.0,0.98,0.72,0.62,0.56,0.52,0.47,0.42,0.38,0.33,0.3,0.26,0.25,0.24,0.2,0.17,0.14,0.11,0.1,0.09];
const pdiOffL = [-1.3,-1.25,-1.2,-1.1,-1.0,-0.9,-0.8,-0.7,-0.6,-0.55,-0.5,-0.4,-0.33,-0.25,-0.2,-0.17,-0.12];
const pdiValL = [0.3,0.12,0.28,0.25,0.38,0.38,0.4,0.42,0.52,0.5,0.46,0.22,0.2,0.6,0.9,1.0,0.25];
const pdiOffR = [0.13,0.17,0.2,0.25,0.3,0.38,0.45,0.5,0.6,0.7,0.8,0.9,1.0,1.1,1.2,1.28,1.3,1.35];
const pdiValR = [0.18,0.9,1.0,0.75,0.55,0.3,0.3,0.45,0.6,0.52,0.46,0.4,0.35,0.3,0.25,0.15,0.12,0.2];

const NS = 'http://www.w3.org/2000/svg';
const svg = document.getElementById('fig3');
function mk(tag, attrs, parent){ const e=document.createElementNS(NS,tag); for(const k in attrs) e.setAttribute(k,attrs[k]); (parent||svg).appendChild(e); return e; }

// Figure 3 axes
const colX = [112,262], colW = 146, rowY = [103,252,402,552], rowH = 142;
function xPix(v,c){ return colX[c] + (v+2.1)/4.2*colW; }
function yPix(v,r){ return rowY[r] + rowH - (v/rowMax[r])*rowH; }
function stepPath(xs, ys, c, r){
  const h = (xs[1]-xs[0])/2;
  let d = '';
  for(let i=0;i<xs.length;i++){
    const xa = xPix(Math.max(xs[i]-h,-2.1),c), xb = xPix(Math.min(xs[i]+h,2.1),c), y = yPix(Math.min(ys[i],rowMax[r]),r);
    d += (i===0?'M':'L') + xa.toFixed(1)+','+y.toFixed(1)+' L'+xb.toFixed(1)+','+y.toFixed(1)+' ';
  }
  return d;
}
const profiles = [[contPA5,contPA95],[co12PA5,co12PA95],[co13PA5,co13PA95],[c18oPA5,c18oPA95]];
const gFig3 = mk('g',{});


for(let r=0;r<4;r++){
  for(let c=0;c<2;c++){
    const panel = mk('rect',{x:colX[c],y:rowY[r],width:colW,height:rowH,fill:'none',stroke:'#111','stroke-width':1.2},gFig3);
    
    
    // minor x ticks
    for(let t=-20;t<=20;t++){
      const v=t/10, x=xPix(v,c), len=(t%10===0)?6:3;
      mk('line',{x1:x,y1:rowY[r]+rowH,x2:x,y2:rowY[r]+rowH-len,stroke:'#111','stroke-width':0.7},gFig3);
      mk('line',{x1:x,y1:rowY[r],x2:x,y2:rowY[r]+len,stroke:'#111','stroke-width':0.7},gFig3);
    }
    rowTicks[r].forEach(v=>{
      const y=yPix(v,r);
      mk('line',{x1:colX[c],y1:y,x2:colX[c]+6,y2:y,stroke:'#111','stroke-width':0.8},gFig3);
      mk('line',{x1:colX[c]+colW,y1:y,x2:colX[c]+colW-6,y2:y,stroke:'#111','stroke-width':0.8},gFig3);
    });
    if(r>0){
      const cont = c===0?contPA5:contPA95;
      const prof = profiles[r][c];
      const cmax = Math.max(...cont), pmax = Math.max(...prof);
      const scaled = cont.map(v=>v/cmax*pmax);
      const grey = mk('path',{d:stepPath(offsetsFine,scaled,c,r),fill:'none',stroke:'#cfcfcf','stroke-width':1},gFig3);
      
      
      const line = mk('path',{d:stepPath(offsetsCoarse,prof,c,r),fill:'none',stroke:rowColors[r],'stroke-width':1.2},gFig3);
      
      
    } else {
      const line = mk('path',{d:stepPath(offsetsFine,profiles[0][c],c,0),fill:'none',stroke:'#111','stroke-width':1.2},gFig3);
      
      
    }
  }
  rowTicks[r].forEach(v=>{
    const t = mk('text',{x:colX[0]-7,y:yPix(v,r)+5,'text-anchor':'end','font-size':13,'font-family':'Liberation Serif'},gFig3);
    t.textContent = v;
    
    
  });
  const lab = mk('text',{x:colX[0]+10,y:rowY[r]+(r===0?18:32),'font-size':13,'font-family':'Liberation Serif',fill:rowColors[r]},gFig3);
  
  
  if(r===0){ lab.textContent='continuum'; }
  else if(r===1){ lab.innerHTML='<tspan font-size="8" dy="-5">12</tspan><tspan dy="5">CO</tspan>'; }
  else if(r===2){ lab.innerHTML='<tspan font-size="8" dy="-5">13</tspan><tspan dy="5">CO</tspan>'; }
  else { lab.innerHTML='C<tspan font-size="8" dy="-5">18</tspan><tspan dy="5">O</tspan>'; }
}
for(let c=0;c<2;c++){
  xTickValues.forEach(v=>{
    const t = mk('text',{x:xPix(v,c),y:718,'text-anchor':'middle','font-size':13,'font-family':'Liberation Serif'},gFig3);
    t.textContent = v;
    
    
  });
  const xl = mk('text',{x:colX[c]+colW/2,y:736,'text-anchor':'middle','font-size':14,'font-family':'Liberation Serif'},gFig3);
  xl.textContent = 'Offset [arcsec]';
  
  
  const pt = mk('text',{x:colX[c]+colW/2,y:97,'text-anchor':'middle','font-size':14,'font-family':'Liberation Serif'},gFig3);
  pt.textContent = c===0?'PA = 5°':'PA = 95°';
  
  
}
const yl = mk('text',{transform:'translate(72 560) rotate(-90)','text-anchor':'middle','font-size':13,'font-family':'Liberation Sans','letter-spacing':1},gFig3);
yl.innerHTML = 'Integrated flux [mJy beam<tspan font-size="8" dy="-5">−1</tspan><tspan dy="5">]</tspan>';



// Figure 4
const f4 = {x0:488,x1:767,y0:110,y1:372};
function fx(v){ return f4.x0 + (v+2.1)/4.2*(f4.x1-f4.x0); }
function fy(v){ return f4.y1 - (v+0.02)/1.04*(f4.y1-f4.y0); }
const gFig4 = mk('g',{});


const frame4 = mk('rect',{x:f4.x0,y:f4.y0,width:f4.x1-f4.x0,height:f4.y1-f4.y0,fill:'none',stroke:'#111','stroke-width':1.2},gFig4);


for(let t=-20;t<=20;t++){
  if(t%2) continue;
  const x=fx(t/10), len=(t%10===0)?7:4;
  mk('line',{x1:x,y1:f4.y1,x2:x,y2:f4.y1-len,stroke:'#111','stroke-width':0.7},gFig4);
  mk('line',{x1:x,y1:f4.y0,x2:x,y2:f4.y0+len,stroke:'#111','stroke-width':0.7},gFig4);
}
for(let k=0;k<=20;k++){
  const y=fy(k*0.05), len=(k%4===0)?7:3;
  mk('line',{x1:f4.x0,y1:y,x2:f4.x0+len,y2:y,stroke:'#111','stroke-width':0.7},gFig4);
  mk('line',{x1:f4.x1,y1:y,x2:f4.x1-len,y2:y,stroke:'#111','stroke-width':0.7},gFig4);
}
function stepLine(xs, ys){
  const h=(xs[1]-xs[0])/2; let d='';
  for(let i=0;i<xs.length;i++){ d+=(i?'L':'M')+fx(Math.max(xs[i]-h,-2.1)).toFixed(1)+','+fy(ys[i]).toFixed(1)+' L'+fx(Math.min(xs[i]+h,2.1)).toFixed(1)+','+fy(ys[i]).toFixed(1)+' '; }
  return d;
}
function polyLine(xs, ys){ return xs.map((x,i)=>(i?'L':'M')+fx(x).toFixed(1)+','+fy(ys[i]).toFixed(1)).join(' '); }
const l1 = mk('path',{d:stepLine(offsetsFine,fig4CO12),fill:'none',stroke:'#2a8a2a','stroke-width':1},gFig4);


const l2 = mk('path',{d:stepLine(offsetsFine,fig4Cont),fill:'none',stroke:'#222','stroke-width':1},gFig4);


const l3 = mk('path',{d:polyLine(pdiOffL,pdiValL),fill:'none',stroke:'#f0a010','stroke-width':1.6},gFig4);


const l4 = mk('path',{d:polyLine(pdiOffR,pdiValR),fill:'none',stroke:'#f0a010','stroke-width':1.6},gFig4);


xTickValues.forEach(v=>{
  const t = mk('text',{x:fx(v),y:393,'text-anchor':'middle','font-size':14,'font-family':'Liberation Serif'},gFig4);
  t.textContent = v;
  
  
});
const x4 = mk('text',{x:(f4.x0+f4.x1)/2,y:413,'text-anchor':'middle','font-size':15,'font-family':'Liberation Serif'},gFig4);
x4.textContent='Offset [arcsec]';


const t4 = mk('text',{x:(f4.x0+f4.x1)/2,y:98,'text-anchor':'middle','font-size':15,'font-family':'Liberation Serif'},gFig4);
t4.textContent='PA = 5°';


const y4 = mk('text',{transform:'translate(470 240) rotate(-90)','text-anchor':'middle','font-size':13.5,'font-family':'Liberation Sans','letter-spacing':1},gFig4);
y4.textContent='Integrated flux (normalized)';


const lg1 = mk('text',{x:506,y:146,'font-size':15,'font-family':'Liberation Serif',fill:'#111'},gFig4);
lg1.textContent='continuum';


const lg2 = mk('text',{x:506,y:173,'font-size':15,'font-family':'Liberation Serif',fill:'#2a8a2a'},gFig4);
lg2.innerHTML='<tspan font-size="9" dy="-6">12</tspan><tspan dy="6">CO</tspan>';


const lg3 = mk('text',{x:506,y:201,'font-size':15,'font-family':'Liberation Serif',fill:'#f0a010'},gFig4);
lg3.textContent='H-band PDI';



// image frame ticks on page 3
const it = document.getElementById('imgticks');
const frames = [[134,127,207,220],[341,127,211,220],[552,127,213,220],[134,538,207,216],[341,538,211,216],[552,538,213,216],[134,754,207,219],[341,754,211,219],[552,754,213,219]];
frames.forEach(f=>{
  for(let x=f[0]+3;x<f[0]+f[2];x+=4.3){ const L=(Math.round((x-f[0])/4.3)%5===0)?6:3;
    mk('line',{x1:x,y1:f[1],x2:x,y2:f[1]+L},it); mk('line',{x1:x,y1:f[1]+f[3],x2:x,y2:f[1]+f[3]-L},it); }
  for(let y=f[1]+3;y<f[1]+f[3];y+=4.3){ const L=(Math.round((y-f[1])/4.3)%5===0)?6:3;
    mk('line',{x1:f[0],y1:y,x2:f[0]+L,y2:y},it); mk('line',{x1:f[0]+f[2],y1:y,x2:f[0]+f[2]-L,y2:y},it); }
});
</script>
</body></html>
